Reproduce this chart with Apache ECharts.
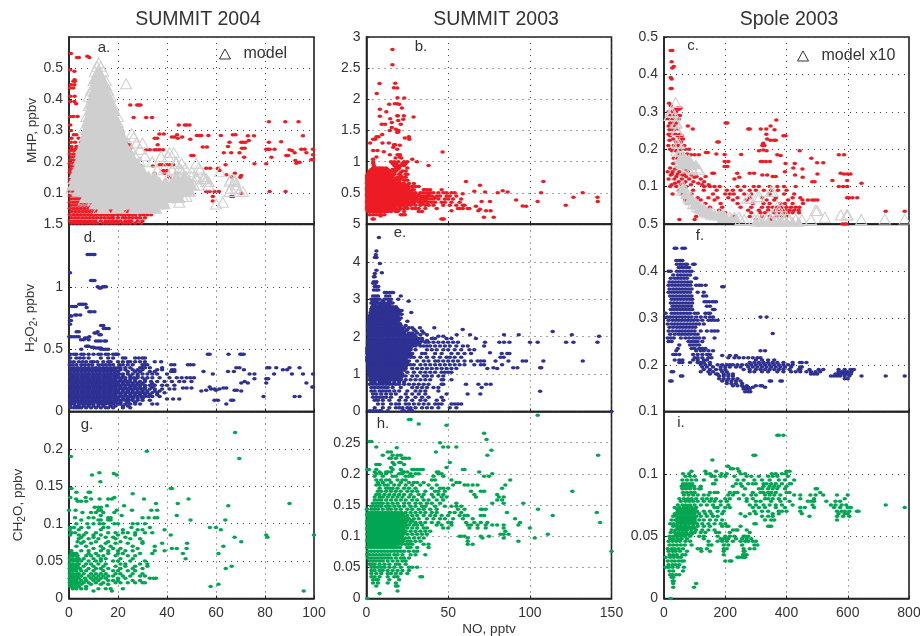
<!DOCTYPE html>
<html><head><meta charset="utf-8">
<script src="https://cdn.jsdelivr.net/npm/echarts@6/dist/echarts.min.js"></script>
<style>html,body{margin:0;padding:0;background:#fff}#c{width:920px;height:636px}</style>
</head><body><div id="c"></div>
<script>
// Every row is [y, [x, x, ...]].
const titles=['SUMMIT 2004','SUMMIT 2003','Spole 2003'];
const panelLetters=['a.','b.','c.','d.','e.','f.','g.','h.','i.'];
const xName='NO, pptv';

// ---------- a. MHP SUMMIT 2004
const aL=[.3,1.8,3.3,4.8,6.3,7.8,9.3,10.8,12.3,13.8,15.3,16.8,18.3,19.8,21.3,22.8,24.3,25.8,27.3,28.8];
const aM=[1,2.5,4,5.5,7,8.5,10,11.5,13,14.5,16,17.5,19,20.5,22,23.5,25,26.5];
const mhpSummit04=[
[.547,[.8]],[.534,[3.3,4,8.3]],[.538,[7.5]],[.495,[.4]],[.49,[2.2]],[.463,[2.3]],[.458,[1.8,2.4]],[.447,[.8,2.2]],[.436,[.4,1.8]],[.41,[.5,2.3]],[.393,[.5,2.2]],[.386,[2.9]],[.382,[25,27.8,28.5,29.2]],[.345,[.5,1.8,3.5]],[.342,[26.4,31.5,33.9]],[.328,[81.6,88.3,93.7]],[.318,[.5,44.8,47.3,48,49.2]],[.3,[.8]],[.289,[36.9,38.7]],[.286,[2,3,6,44.1,66.9,68]],[.284,[52.2,53.3,54,56.9,62]],[.283,[73,75.5,95.5]],[.279,[42,43,46.2]],[.275,[1,4,9,35,36,44.4]],[.272,[49.5]],[.268,[73.4]],[.264,[86.6]],[.262,[.8,2.5,5,23,65.5,70.3,71,72,81.6]],[.254,[36.2,24,25]],[.249,[1,3,4.5,24,64.9]],[.247,[54.6,56.3]],[.243,[70.6,71.7,25]],[.24,[1,2.5,4,80.5,81.2,81.9,83.9,94.8,96.2,99.6]],[.238,[31.5,33,34.9,35.8,37,38.4,90]],[.236,[91,.5,2,3.5,5]],[.229,[63.2,66.2,69.6,92.1,96.9,25.3]],[.222,[99.6,26]],[.22,[88.7,89.4,49.9,50.8]],[.214,[71.5,82.6]],[.206,[98.9,99.6]],[.204,[92.4]],[.198,[94.1]],[.195,[92.8]],[.193,[75.7,80.5]],[.19,[37,38,39.5,41,42.5,63.9]],[.186,[28,29.5,34.2]],[.179,[56,57.6,60.8]],[.172,[61.5,38.5,40]],[.163,[34.9,67.7,39,44]],[.158,[64.2]],[.156,[70.3]],[.15,[69.9,41]],[.152,[66.2]],[.147,[30.1,31.5]],[.104,[56,57.4,59.4,61.2,81.9,88.4]],[.099,[70.3]],[.088,[58.7,66.2,67]],[.074,[58.7]],[.072,[42.4,43]],
[.225,[.3,1.8,3.3,4.8,5.8]],[.215,[1,2.5,4,5]],[.205,[.5,2,3.5,4.8]],[.195,[.3,1.8,3.3,4.5]],[.185,[1,2.5,4]],[.175,[.5,2,3.5]],[.165,[.3,1.8,3.3]],[.155,[1,2.5]],[.145,[.5,2,3]],[.135,[.3,1.5,2.5]],[.125,[1,2]],[.115,[.3,1.5]],[.105,[.3,1.8,3.3,4.8]],
[.1,[1,2.5,4,5.5,7]],[.09,aL.slice(0,6)],[.08,aM.slice(0,7)],[.07,aL.slice(0,9)],[.06,aM.slice(0,10)],[.05,[...aL.slice(0,14),24,26,28]],
[.04,[...aM,28,30,32,33.5,35,36]],[.03,[...aL.slice(0,17),25.5,27,29,30.5,32,33.5]],[.02,[...aM.slice(0,12),18,20,22,23,24.5,26,27.5,29,31]],[.01,[...aL.slice(0,8),13,15,16.5,18,19.5,21,23,24.5,25.5,28,30]],[.003,[...aM.slice(0,7),11.5,14,15.5,17,18.5,20,22,23.5,25,27,29.5]]
];
const modelCoreSummit04=[
[.49,[12]],[.47,[11,13]],[.45,[11,13,14.5]],[.43,[10.5,12.5,14.5]],[.41,[9.8,12,14,16]],[.39,[9.3,11.5,14,16.5]],[.37,[9,11,13.5,16,18]],[.35,[8.5,11,13.5,16,18]],[.33,[8,10.5,13,15.5,18,19.5]],[.31,[7.5,10,12.5,15,17.5,20]],[.29,[7,9.5,12,14.5,17,19.5,21]],[.27,[6.5,9,11.5,14,16.5,19,21.5]],[.25,[5.5,8,10.5,13,15.5,18,20.5,23]],[.23,[5,7.5,10,12.5,15,17.5,20,22.5,24.5]],[.21,[4.5,7,9.5,12,14.5,17,19.5,22,24.5,26]],[.19,[4,6.5,9,11.5,14,16.5,19,21.5,24,26.5,28]],[.17,[3,5.5,8,10.5,13,15.5,18,20.5,23,25.5,28,30]],[.15,[2.5,5,7.5,10,12.5,15,17.5,20,22.5,25,27.5,30,32.5,35,44,47]],[.13,[2,4.5,7,9.5,12,14.5,17,19.5,22,24.5,27,29.5,32,34.5,37,39.5,42,44.5,47,49.5]],[.11,[4,6.5,9,11.5,14,16.5,19,21.5,24,26.5,29,31.5,34,36.5,39,41.5,44,46.5,49]],[.09,[7,9.5,12,14.5,17,19.5,22,24.5,27,29.5,32,34.5,37,39.5,42,44.5]],[.07,[11,13.5,16,18.5,21,23.5,26,28.5,31,33.5,36,38.5]],[.055,[14,20,27,31,35]]
];
const modelSummit04=[[.517,[12.1]],[.505,[11.5,13]],[.49,[10.5,14]],[.46,[10,15]],[.45,[23.3]],[.43,[9,16]],[.41,[8,17]],[.38,[8,18]],[.345,[7,19.9]],[.31,[6.2,20.6]],[.29,[25.6]],[.28,[22,26.5]],[.26,[30,24,27.5]],[.24,[5,25.5,29]],[.229,[42.8,41]],[.219,[31,27]],[.217,[37.6,40.5]],[.2,[29,34,43.7]],[.195,[43.7,51.9,46]],[.18,[45,47.5,39,53]],[.174,[45.8,53.5,42,36]],[.168,[61.6,50]],[.152,[47.8,55,50,52,45]],[.145,[55,56,42,52,40]],[.136,[56,57,65.5,67.6,49]],[.141,[67.6,66]],[.125,[57,51,53,68]],[.115,[1,66,68,2.5]],[.104,[69.6,65.5,71]],[.088,[46.5,48]],[.077,[38.3,10,6]],[.07,[62.8,45]],[.064,[60,37]],[.05,[12,17,25]]];

// ---------- b. MHP SUMMIT 2003
const bA=[.5,2,3.5,5,6.5,8,9.5,11,12.5,14];
const bB=[.3,1.5,3,4.5,6,7.5,9,10.5,12,13.5];
const mhpSummit03=[
[2.8,[15.9]],[2.555,[15.9]],[2.255,[8]],[2.26,[17.6]],[2.185,[16.8]],[2.18,[18.8]],[2.095,[6.3]],[2.025,[19]],[2.02,[23.1]],[1.92,[13.9,20]],[1.93,[17.4,18.8]],[1.86,[21.7]],[1.84,[8.2]],[1.8,[12.1]],[1.73,[8.2]],[1.735,[18.8,19.2,22.9]],[1.715,[28.8]],[1.69,[14.5]],[1.68,[22.5]],[1.66,[19.4]],[1.63,[15.5]],[1.6,[9.4,11.4,21]],[1.55,[15.5]],[1.5,[14.3,19.6]],[1.52,[18]],[1.47,[18.8,19.3]],[1.435,[9.6]],[1.4,[6.1,7.4,26]],[1.36,[4.1,5.3,26.2]],[1.38,[23.5]],[1.3,[2.2,9.8,13.7]],[1.27,[16.8,17.6]],[1.265,[20.4]],[1.23,[16.4]],[1.2,[18.8]],[1.18,[4.1,6.7]],[1.16,[10.6]],[1.155,[46.6]],[1.11,[14.3,19,20.5]],[1.075,[6.1,20.4]],[1.06,[17.8,21.3]],[1.04,[28,4]],[1,[4.1,30.9,15,17,19.5,23,25]],[.97,[4.1,16,18,22,24]],[.94,[38,4.5,17,19,21,23]],
[.9,[4,5.5,7,8.5,10,12,18,20,25]],[.875,[3,5,7,9,11,13,16,19]],[.85,[2,3.5,5,6.5,8,9.5,11,12.5,15,18,22,24]],[.825,[1.5,3,6,7.5,9,10.5,12,14,17,21]],[.8,[1,2.5,4,5.5,7,8.5,10,11.5,13,14.5,17,20,24,25]],[.775,[...bB,16,21]],[.75,[...bA,16,19,22,24]],[.725,[...bB,15,18,21]],[.7,[...bA,16,18,20,23,25]],[.68,[60.9,108.3]],[.675,[...bB,15,17,20]],[.65,[...bB,15.5,17,19,21,23,26,29]],[.625,[...bA,16,18,20,23,25]],[.62,[69.5]],[.6,[...bA,15.5,17,18.5,20,22,24,26,28,30,32]],[.575,[...bB,15,17,19,21,23,25]],
[.55,[...bB,15,16.5,18,19.5,21,22.5,24,26,28,29,35,36,37.5,39,46]],[.535,[83.4]],[.525,[...bA,16,18,20,22,24,27,66]],[.514,[72.6,86.4]],[.5,[...bA,15.5,17,18.5,20,21.5,23,24.5,26,28,30,33,35,37,39,41,44,47,49,52,54,80.3,106.9,132.4]],[.487,[58.9]],[.475,[...bB,15,17,19,21,23,25,27,29,32,38]],[.45,[...bB,15,16.5,18,19.5,21,22.5,24,25.5,27,29,31,33,34.5,36,38,40,43,45,49,51,55]],[.43,[126.7,141.4]],[.425,[...bA,16,18,20,22,24,26,28,30,34,37,42]],[.4,[...bA,15.5,17,18.5,20,21.5,23,24.5,26,27.5,29,31,32.5,34,35.5,37,39,41,44,48,50,53,58]],[.386,[91.6]],[.375,[...bB,15,17,19,21,23,25,28,30,33,36]],[.36,[70.5,75.6,104.8,141.6]],[.35,[...bB,15,16.5,18,19.5,21,22.5,24,25.5,27,29,32,33,35,37,38,40,42,46,48,52,57]],[.325,[...bA,16,18,20,22,24,26,29,34]],[.3,[...bA,15.5,17,18.5,20,21.5,23,25,27,30,33,36,38,41,47,51,55,59,60,122]],[.29,[95.6]],[.284,[97.7,67]],[.275,[...bB,15,17,20,24]],[.25,[...bB,15,16,18,21,23,25,28,30,32,36,43,56,57,59,62,63]],[.236,[69.5]],[.225,[.5,2,3.5,5,7,9,11,13,16,20]],[.214,[68.5,73.2,76,52]],[.2,[1,2.5,4,5.5,7,8.5,10,11.5,13,15,18,19,23,32,34]],[.15,[2,4,6,8,9,11,21,22,23.5]],[.13,[8.6]],[.11,[71.9,77.9]],[.08,[3.7,4.5,45.8,46.6,47.4]]
];

// ---------- c. MHP Spole 2003
const mhpSpole=[
[.464,[22,27]],[.434,[25]],[.421,[32]],[.417,[27]],[.392,[22]],[.388,[25]],[.362,[22,25]],[.323,[17]],[.316,[22]],[.31,[54,44]],[.307,[49,38]],[.3,[15,24,32,40]],[.29,[18,28,44,52]],[.28,[12,22,34,48]],[.278,[367]],[.27,[201,207,20,30,41]],[.262,[78,348,15,36]],[.254,[94,275,280,316,334,25,46]],[.252,[361,18,33]],[.24,[15,25,38,52,334]],[.236,[390,397,20,44,58]],[.227,[337,62,30,50]],[.224,[348,359,365,18]],[.219,[174,179,40,56]],[.216,[324]],[.21,[321,328,14,32,46,66]],[.2,[20,30,44,54,70,82]],[.196,[310,335,443,26,38]],[.198,[324]],[.191,[137,143]],[.187,[171,48,60,76]],[.186,[198,252]],[.185,[114,370,571,588,100,88]],[.183,[381]],[.176,[481,32,44,68]],[.167,[198,210,316,322,333,346]],[.164,[500,520,54,76]],[.162,[397,427,30]],[.154,[198,207]],[.15,[20,42,62,84,100,422]],[.147,[452,36,70]],[.14,[12,28,50,78,395]],[.136,[158,163,239,280,294,577]],[.134,[501,588,599,609,26,44,66]],[.131,[321,337,428,22,60,90]],[.127,[136,365,355,40,72,106]],[.125,[453,246,100]],[.12,[15,34,58,82,120,230]],[.116,[598,550]],[.113,[484,492,131,48,70,96]],[.109,[645,36,64,112]],[.105,[25,55,88,125,146]],
[.1,[131,150,165,182,240,262,293,310,345,370,392,430,571,585,598,20,40,72]],[.09,[95,130,172,205,225,250,280,300,326,350,372,400,50]],[.08,[90,160,200,215,228,262,285,345,392,425,60,28]],[.07,[75,110,145,175,210,240,280,320,365,420,445,598,604,615,631]],[.064,[70,120,165,225,270,335,360,405,452,470,484,492,501]],[.055,[75,135,185,240,290,325,345,380,395,420,454]],[.045,[100,150,190,250,285,320,340,355,370,385,400,415,430,442]],[.037,[130,180,275,310,340,365,380,395,410,425,440]],[.034,[724,786]],[.03,[140,200,285,315,330,360,375,390,405,420,441]],[.02,[105,165,230,280,320,345,365,380,400]],[.012,[50,100,180,300,350]],[0,[582,590,596]]
];
const modelCoreSpole=[[.175,[52,62,72,82]],[.16,[55,66,78,92,104]],[.095,[60]],[.08,[70]],[.065,[82,90]],[.052,[98,108]],[.042,[112,122,132]],[.033,[130,142,152]],[.025,[150,165,180,192]],[.016,[190,205,220,235]],[.006,[300,320,340,360,380,400,420,440]]];
const modelSpole=[[.325,[38]],[.3,[22,28]],[.29,[18,35]],[.27,[38,42]],[.25,[40,44]],[.215,[44,50]],[.195,[40,52]],[.18,[48,58,64]],[.165,[52,68,78]],[.15,[76,90,108]],[.145,[92,115]],[.1,[58,64]],[.09,[60,68]],[.07,[80,88]],[.069,[272,280]],[.073,[305,312]],[.087,[348,355]],[.055,[95,105]],[.046,[108,118,370,380]],[.04,[120,130]],[.03,[140,150,160]],[.024,[165,180,195,577,596,600]],[.036,[495,500]],[.018,[200,215,230,245,525]],[.012,[250,262,295,305,320,335,350,365,380,395,410,430,450,480,644]],[.013,[721,786]],[.03,[360,375]],[.02,[340,385,400]]];

// ---------- d. H2O2 SUMMIT 2004
const dA=[.5,2,3.5,5,6.5,8,9.5,11,12.5,14,15.5,17,18.5,20];
const dB=[1,2.5,4,5.5,7,8.5,10,11.5,13,14.5,16,17.5,19];
const h2o2Summit04=[
[1.26,[7.6,8.4,9.2,10,10.4]],[1.113,[.4]],[1.05,[9,9.6,10.4]],[1,[11.7,13.8,15.1,14.4]],[.99,[12.4,13]],[.86,[4.2,5,5.8,6.7]],[.843,[1.2,2.2,2.8]],[.835,[7.2]],[.8,[8.3,9,10.4]],[.775,[4.6,2.5,3.2]],[.767,[.5,1]],[.73,[.4,.8]],[.7,[.4]],[.69,[13.1,14]],[.665,[15.1,16.2,14.2]],[.64,[11.7,3.1,4]],[.63,[10.4,11]],[.615,[13,12.4]],[.6,[.1,1,2,3,4,8.3]],[.59,[7.2,6.5]],[.575,[4.9,8,6]],[.566,[11,12,13,15.1,14.5]],[.523,[7,7.6,8]],[.515,[9.3,10]],[.51,[11,12,13]],[.5,[13,14,15,16,5]],[.459,[56.7,57.4,65.1,69.9,71.3,70.5]],
[.46,[.5,2,3,5,6,8,10,12,13,15,16,19,20,19.5,18]],[.43,[.5,3,4.5,6,8,13,16,18,22,23,27,28.5,30,31]],[.4,[.5,2,4,5.5,7,9,10,11.5,14,16,17,20,22,24,25,27,29,31,35,37.6]],[.376,[.3,1.5,3,5,6.5,8,9.5,12,13.5,15,16.5,18,20.5,22,24,26,30,31,32,41.7,43,48.5,49.5,50.8]],[.35,[...dA,21,23,25,29,30,31,33,38,84.6,80.9,81.8,68.3,69.6,90,94.1]],[.335,[...dB,21,23,26,28,30,36,38,42,43,71.4,87.3,89]],[.32,[...dA,24,27,29,33,35,41.7,43,54.9,64.9,67.3]],[.3,[...dB,20.5,22,24,26,28,30,32,34,36,40,91,83.7,73.7,75.7,95.5,99.6,58.7]],[.285,[...dA,22,25,28]],[.27,[...dA,21.5,23,25,26.5,28,30,32,34,37,41,44,46,48,49.5,51]],[.263,[75.7,80.5,81.3]],[.255,[...dB,21,23,25,27,31]],[.24,[...dB,20.5,22,23.5,25,27,29,31,33.5,36,39,42,45,47,50,71.7]],[.228,[70.3,73,80.5,96.9]],[.225,[...dA,22,24,26,28,30,34]],[.21,[...dA,21.5,23,24.5,26,27.5,29,31,33,35,38,40,43]],[.196,[57.4,99.3,99.6]],[.195,[...dB,21,23,25,27,29,31,34]],[.188,[64.2,63,46.5,48,50]],[.18,[...dB,20.5,22,23.5,25,26.5,28,29.5,31,33,35,38,41,43,61.4,59.4,58]],[.17,[56,67.6,68.5,60]],[.165,[...dA,22,24,26,28,30,32,35,37]],[.164,[70.3,54]],[.15,[...dA,21.5,23,24.5,26,27.5,29,30.5,32,34,36,39]],[.135,[...dB,21,23,25,27,29,31,33,36]],[.12,[...dB,20.5,22,23.5,25,26.5,28,29.5,31,32.5,34,37,79.4,92.1,94.1]],[.105,[...dA,22,24,26,28,30]],[.1,[40,42.5,45]],[.09,[...dA,21.5,23,24.5,26,28,30,33,59.4,60.8,66.2,67]],[.075,[...dB,21,24,27]],[.06,[.5,2,4,5.5,7,8.5,10,12,13.5,15,16.5,18,20,21,23,25,27,29,34,36,64.2]],[.045,[.5,2.5,4,6,8,10,12,14,17,19,22,24]],[.03,[.5,2,3,4,5,7,9,11,13,15,16,18,22,25]]
];

// ---------- e. H2O2 SUMMIT 2003
const eA=[1,3,5,7,9,11,13,15,17,19];
const eB=[2,4,6,8,10,12,14,16,18,20];
const h2o2Summit03=[
[4.65,[7.6]],[4.29,[6.1]],[4.19,[5.7]],[4.12,[5.1,6.1]],[3.96,[8.2]],[3.78,[6.1]],[3.71,[9.4]],[3.69,[5.1]],[3.6,[4.5,5]],[3.47,[6.1,4.5]],[3.43,[4.1,5.5]],[3.34,[5,7.2,6.2]],[3.25,[4.5,6,7.2]],[3.18,[11.2,12.5,14.3,15.5,16.3]],[3.09,[4,5.5,7,12,14,21]],[3,[3,5,6.5,8,11,13,15,19.4]],[2.95,[25.8,4,6,10,14]],[2.9,[3,4.5,6,7.5,9,11,13,15,16]],[2.85,[4,5.5,8,10,12,14]],[2.8,[3.5,5,6.5,8,10,12,14,16,18]],[2.75,[3,4.5,7,9,11,13,15,17,19]],[2.7,[3,4.5,6,7.5,9,11,13,15,17,19,20.5,21.5]],[2.65,[27.4,2.5,4,6,8,10,12,14,16,18,20]],[2.6,[2.5,4,5.5,7,8.5,10,12,14,16,18,20,21.5]],[2.55,[2,3.5,5,7,9,11,13,15,17,19]],[2.5,[2,3.5,5,7,9,11,13,15,17,19,21]],[2.45,[2,4,6,8,10,12,14,16,18,20]],[2.41,[25,1.5,3,5,7,9,11,13,15,17,19]],[2.35,[20.4,2,4,6,8,10,12,14,16,18]],[2.3,[1,...eA,21,24]],[2.24,[41.5,32.7,26,28,...eA,21,23]],[2.19,[58.9,...eB,22,25,29]],[2.15,[...eB,22,24,30,34]],[2.14,[114]],[2.1,[...eA,21,23,26,28,31,35]],[2.05,[...eA,21,23,25,27,29,33,55.2,63.4,84.2,93.2,125.7,37]],[2.01,[142.4,44,47,...eB,22,24,26,28,30]],[1.95,[...eB,22,24,26,28,30,32,34,40,42,67,49,52]],[1.9,[...eA,21,23,25,27,29,31,34,37]],[1.85,[...eA,21,23,25,27,29,31,33,36,38,41,44,47,50,53,56,72.6,81.3,84.2,87.5,100.1,104.8,122.2,126.7,141.4]],[1.8,[...eB,22,24,26,28,30,32]],[1.75,[...eB,22,24,26,28,30,33,35,37,39,42,45,48,51,55,59,62,72]],[1.7,[.5,...eA,21,23,25,27]],[1.65,[.5,...eA,21,23,25,27,30,37,40,43,47,50,54,58,63,66]],[1.6,[.5,...eB,22,24,26]],[1.57,[75.6]],[1.55,[.5,...eB,22,24,26,28,34,36,42,46,52,56,60,64,82.8,86.2,87.5]],[1.5,[...eA,21,23,25,27]],[1.45,[.5,...eA,21,23,25,27,29,33,37,41,45,49,51,54,58,82,84]],[1.4,[.5,...eB,22,24]],[1.35,[.5,...eB,22,24,26,31,35,38,42,44,47,50,53,56,60,64,68,70,72,79,86.9,95.6,97.7,108.3,132.4]],[1.3,[...eA,21,23,25]],[1.25,[...eA,21,23,25,27,29,33,36,39,42,45,48,51,54,57,60,66,70,72,83]],[1.2,[2,...eB.slice(1),22,24]],[1.17,[92.4,89.8,77.7,106.3,107]],[1.15,[2,...eB.slice(1),22,24,28,31,34,37,40,43,46,49,52,55,74,80]],[1.1,[1.5,...eA.slice(1),21,23]],[1.05,[1.5,...eA.slice(1),21,25,29,33,36,39,42,46,48,50,52]],[1,[2,...eB.slice(1),22]],[.95,[2,...eB.slice(1),22,24,28,31,35,37,40,44,47]],[.9,[2.5,...eA.slice(1),21]],[.85,[2,...eA.slice(1),21,24,27,30,33,36,39,46,47,52]],[.79,[3,5,8,10,12,14,17,20,23]],[.73,[...eB,23,26,29,32,35,38,47,46,60.9,68.5,73.2,76]],[.64,[70.5,3,5,7,9,11,13,16,21,28,31,34,37,41,44]],[.54,[106.3]],[.55,[3,5,8,10,12,14,17,20,25,30,33,36,44]],[.47,[4,6,9,12,15,18,24,28,32,36,49,61.9,69.7]],[.38,[4,6,8,10,12,15,21,25,30,34,38,46]],[.3,[5,7,10,14,20,24,28,33,36,43,47]],[.2,[7,10,15,18,20,24,26,29,32,35,38,42,44,46,52,54,56,58]],[.1,[5,10,14,18,20,22,25,27,30,34,37,40,44,51,55]],[.02,[2,4,6,8,9,13,22,23,26,27,28]],[0,[150]]
];

// ---------- f. H2O2 Spole 2003
const h2o2Spole=[
[.449,[35,40,60,68]],[.423,[40,48,55,60]],[.415,[42,52,60,70,75,95,100]],[.408,[48,58,66,76,82]],[.4,[15,22,42,52,62,72,82,90]],[.392,[30,45,55,65,75,85]],[.385,[22,35,45,55,65,75,105,102]],[.377,[18,28,38,48,58,68,78,88]],[.37,[15,26,36,46,56,66,76,86,105,115,122,136]],[.367,[195,190]],[.362,[18,30,40,50,60,70,80,90]],[.355,[15,25,35,45,55,65,75,85,110,130]],[.347,[20,30,40,50,60,70,80,90,128,138]],[.34,[25,35,45,55,65,75,85,92]],[.335,[132,140,148,158,165,170]],[.332,[22,32,42,52,62,72,82,92]],[.325,[28,38,48,58,68,78,88,140,150]],[.318,[22,32,42,52,62,72,82,92,160,165]],[.31,[5,25,35,45,55,65,75,85,100,110,150,135,145]],[.302,[10,20,30,40,50,60,70,80,90,105,120,135,150,160,315,335]],[.295,[15,28,38,48,58,68,78,88,98,110,125,145,155,165,175]],[.287,[12,25,35,45,55,65,75,85,95,105,115,130]],[.28,[18,30,42,52,62,72,82,92,102]],[.272,[15,28,40,50,60,70,80,90,100,120,140,155,165,175]],[.267,[355]],[.265,[20,35,48,58,68,78,88,100,110]],[.257,[12,22,32,55,70,82,95,105,115,130,165]],[.25,[15,25,80,90,100,110,125]],[.242,[50,85,95,105,115]],[.235,[45,90,100,115,125,135]],[.23,[40,105,120,130,145,160,315,330]],[.222,[30,38,50,95,110,125,140,150]],[.22,[190,215,235]],[.215,[100,110,125,145,155,210,230,245,260,275,290,305,315]],[.21,[35,50,60,95,110,130,140,300,320,340,360]],[.205,[50,60,85,110,120,130,150,280,295,310,325,340,355,370,390,420,450,465,444]],[.2,[120,135,150,175,190,205,215,225,240,255,270,285,300,315,330,345,360,375,390,405,420]],[.195,[125,140,160,185,200,215,235,250,275,290,305,320,335,350,365,380,395,415,450,444]],[.19,[130,150,170,185,200,260,280,300,315,330,345,360,375,390,410,440,475,445,505,520,570,590,610,620]],[.185,[25,30,120,145,160,190,205,280,295,320,340,370,390,415,430,445,465,480,495,510,570,580,590,600,612]],[.18,[150,170,175,195,210,225,480,490,500,560,570,580,590,600,610]],[.176,[55,60,180,195,210,225,545,555,565,575,590,605,645,724,786]],[.17,[180,195,210,225,240,590,600]],[.165,[190,205,220,235,250,20,25,380,385,350,345]],[.16,[205,220,235,255]],[.155,[225,240,255,270,300,315,320]],[.152,[260,275,290,330]],[.148,[260,270,280]],[.142,[265,275,282]]
];

// ---------- g. CH2O SUMMIT 2004
const ch2oSummit04=[
[.222,[67.8]],[.197,[31.8]],[.19,[.8]],[.187,[69.5]],[.168,[12.4]],[.167,[18.3]],[.165,[9.4,19.5]],[.156,[12.8]],[.147,[1,41.5,42]],[.142,[3,8,8.6]],[.14,[26]],[.135,[6.8,18.5,.5]],[.133,[2.9,9,12.5,16,17.5,30.6,48.8]],[.13,[5,3.6,7]],[.127,[35.5,44.4,90]],[.124,[15.5,22.5,65]],[.122,[10.5,12,13]],[.118,[0,2.7,12,13,19.5,25.7,33.6,36]],[.115,[5.5,9,11,14,18.5]],[.111,[13,21.5,44]],[.108,[2.5,8,10,16,17,30,32.5,35,36]],[.105,[5,12,13,16,17,49.6,63.8]],[.1,[3,7.5,10,12.5,14,18.5,20,26,28,31]],[.095,[.5,2,5,8,14,16,25.5,33,57.5,60]],[.092,[.3,4,13,22,28,30,39,62]],[.088,[1,2.5,7,11,16,19,22,24,27,31,34]],[.085,[.5,4,6,10,13,20,27,41.5,80.5,100]],[.082,[5,10,15,18,23,67.6,81]],[.08,[4,8,12,19,25,29]],[.076,[3.5,6,11,16,21,30,70.3]],[.074,[5,9,15,19,24,30,38,48.2]],[.07,[3,7,13,17,26,35,63]],[.067,[10,14,18,21,28,42,44,48]],[.064,[1,5,8,13,16,20,23,26,35,39]],[.06,[1,2,3,8,11,16,20,22,29,34,46.5,61]],[.057,[.5,2,3.5,7,9,12,14,19,24,27]],[.053,[.3,1.5,3,4,6,10,13,15,21,26,47.6]],[.05,[.5,2,3.5,5,8,11,13,18,20,25,31]],[.046,[.3,1.5,3,4,7,9,12,15,21,23,29,32]],[.043,[.5,2,3.5,6,10,14,19,23,27,32,66.4]],[.04,[.3,1.5,3,4.5,8,11,13,16,21,26,30,64]],[.037,[.5,2,3,5,7,10,14,18,20,24,27]],[.033,[.3,1.5,3,4,6,9,11,13,15,19,21,26,30]],[.03,[.5,2,3.5,5,8,10,12,14,16,18,22,25,29,31]],[.027,[.3,1.5,2.5,4,6.5,9,11,13,15,20,23,33,34.5,35.5]],[.024,[.5,2,3,5,7,10,12,16,18,20,26,29]],[.021,[.3,1.5,2.5,4,6,8,11,14,19,21,24,27,30,31]],[.019,[.5,2,3,5,9,13,16,61]],[.016,[.5,1,2.5,4,7,57.8]],[.013,[1.5,3,5,7,12,15,17,22]],[.01,[10,17.5,95.8]]
];

// ---------- h. CH2O SUMMIT 2003
const hA=[.5,2.5,4.5,6.5,8.5,10.5,12.5,14.5,16.5,18.5,20.5,22.5];
const hB=[1.5,3.5,5.5,7.5,9.5,11.5,13.5,15.5,17.5,19.5,21.5];
const ch2oSummit03=[
[.294,[104.8]],[.287,[26,27]],[.28,[32]],[.278,[49]],[.265,[72]],[.255,[73.5]],[.252,[2,3]],[.25,[45]],[.243,[6,47,50,55]],[.242,[18.5]],[.238,[76.5]],[.235,[42.5,13,15]],[.23,[10,16,19,21,74,141.8]],[.225,[14,15,18,22,23,24,26]],[.218,[16,20,21,51]],[.215,[6,7,8,17,23]],[.21,[15,49]],[.207,[.5,1.5,6,16,21,28,29,31,33,34.5,60,59]],[.203,[5,8,12,13,15,22,23,25,69,44,43]],[.2,[6,9,12,20,22,27,30,32,44,46,77]],[.196,[5,10,16,18,24,26,28,41,47,72,75]],[.19,[6,9,12,14,19,22,24,40,42,52,88]],[.186,[7,10,15,21,26,29,31,35,55,57]],[.182,[6,8,11,13,17,20,24,28,33,38,43,53,60,62,65,68,85]],[.177,[8,12,14,16,19,23,26,30,40,45,47,50,83]],[.172,[7,9,12,15,18,21,25,28,31,36,42,44,48,64,70,72,126]],[.167,[6,8,11,14,17,20,23,27,32,35,40,44,47,66,80]],[.163,[5,8,10,13,16,19,22,26,29,34,41,46,49,67,81,84]],[.158,[5,7,9,12,15,18,21,24,28,31,35,38,43,47,80,83]],[.153,[4,6,8,10,13,16,19,23,26,30,33,37,40,45,55,77,84,96]],[.148,[3,5,7,9,12,14,17,20,23,27,30,34,36,42,48,52,55,58]],[.143,[.3,3,5,7,10,13,15,18,21,25,28,32,35,39,43,56,60,70,71,73,105]],[.138,[...hB,24,27,30,33,36,40,43,51,54,58,86,141]],[.1355,[...hA]],[.133,[...hA,25,28,31,35,39,42,46,50,57,60,62,70,72,114]],[.1305,[...hB,24]],[.128,[...hB,24,26,29,32,37,41,45,48,53,59,65,91]],[.125,[...hA,25,28]],[.122,[...hA,24,27,30,33,36,40,44,50,52,61,66,70,74,94,143]],[.12,[...hA]],[.118,[...hB,24,26,29,31,34,43,46,52,62,64,68,73,77,80,84,93]],[.1155,[...hB,23]],[.113,[...hA,25,28,31,35,37,47,50,63,68,73,84,100]],[.1105,[...hA]],[.108,[...hB,24,27,30,33,36,39,85]],[.1055,[...hB,23]],[.103,[...hA,25,28,31,34,37,82,84,87,111]],[.1,[57,58,60,70,75,...hB]],[.097,[...hB,24,26,29,32,35,62,71,84,103]],[.0945,[...hA]],[.092,[...hA,25,27,30,33,62,93]],[.0895,[...hB]],[.087,[...hB,24,26,28,35,38,62,65]],[.0845,[...hB.slice(0,9)]],[.082,[...hA.slice(0,11),25,27,31,38]],[.076,[1,3,5,7,9,11,13,15,17,19,21,23,26,29,31,150]],[.07,[.5,2,4,6,8,10,12,14,17,19,22,27,30,36]],[.065,[1,3,5,7,9,11,13,15,18,21,23,26]],[.06,[2,4,6,8,10,13,16,19,22,24]],[.055,[2,3.5,5,8,11,14,18,20,24]],[.05,[3,5,7,9,11,14,17,21,26,28,31]],[.045,[3,5,8,10,13,16,19,22,26]],[.04,[3,6,9,13,15,18,21,25]],[.035,[3,5,8,13,17,19,33,34]],[.03,[4,6,7,14,20]],[.025,[4,7,13,18]],[.02,[6,18,19]],[.012,[19]],[.008,[8]],[0,[.5]]
];

// ---------- i. CH2O Spole 2003
const iCore=[44,52,60,68,76,84,92,100];
const ch2oSpole=[
[.131,[370,375,390]],[.115,[292,298]],[.111,[158]],[.106,[207,210]],[.104,[225,240,218]],[.102,[90,135,170,245,400,410]],[.1,[62,82,138,150,205,188,250,265,352,365,385,398]],[.098,[70,85,100,155,165,185,200,230,270,285,310,340,355,370,405]],[.095,[60,75,90,105,130,170,240,260,295,320,345,375,395,425]],[.092,[62,72,82,92,160,165,235,250,275,290,300,325,335,350,365,385,410,415]],[.09,[58,68,78,88,98,120,225,255,325,345,360,375,400]],[.088,[60,72,85,100,115,120,265,310,320,340,355,370,395,500,495]],[.085,[62,75,88,100,150,165,175,215,230,240,290,315,325,340,350,365,410,400,510]],[.083,[65,80,95,110,130,145,210,225,260,285,300,330,345,360,380,425,445,520,478,495,565,600]],[.08,[50,65,78,90,105,125,140,155,170,200,215,245,270,290,330,340,355,375,395,445,490,590]],[.078,[55,70,82,95,110,130,150,165,185,205,270,300,315,350,380,410,470,480,490,575,530,560]],[.075,[45,60,72,85,100,120,140,160,185,210,280,300,325,345,365,385,420,485,545,560,580,595,724]],[.073,[35,50,65,78,90,105,165,175,200,215,290,310,330,365,395,445,460,490,555,575,600,610,786]],[.0715,iCore],[.07,[45,58,70,82,95,108,130,150,175,195,295,320,340,375,385,400,445,565,580,590,605,630,635]],[.0685,iCore],[.068,[35,48,60,72,85,98,115,135,155,190,250,280,300,355,375,450,590,600,570]],[.0645,iCore],[.066,[30,42,55,68,80,92,105,120,140,160,175,265,320,340,355,475,565,585,605]],[.0615,iCore],[.063,[25,38,50,62,75,88,100,115,130,150,170,190,330,350,360,565]],[.06,[20,32,45,58,70,82,95,108,125,145,165,185,200,295,300]],[.0565,iCore],[.058,[30,42,55,68,80,95,110,130,150,190,205,210,250,340,345,350]],[.055,[25,38,50,62,75,90,105,125,145,165,225,235,240,270]],[.0515,[40,48,56,64,72,80,90]],[.053,[22,35,48,60,72,88,100,120,135,170,180,215,280]],[.05,[18,30,42,55,68,85,115,130,175,200,215,230,260,265,275]],[.048,[20,32,45,58,75,130,185,195,210,235,255,270,285,205]],[.046,[15,28,40,52,70,85,145,175,190,205,225,250,265,275,290,300]],[.043,[18,30,42,55,68,90,145,155,195,210,255,295,305]],[.04,[12,25,35,48,62,110,120,140,195,205,260,280,295]],[.038,[15,28,38,52,75,122,150,195,260,263]],[.035,[18,30,42,60,70,195,258,262,270]],[.033,[5,20,32,45,55,240,245,255,262,265]],[.03,[12,25,35,48,58,65,200,215,220]],[.027,[15,28,38,50]],[.025,[5,15,28,45,65]],[.022,[18,30,62]],[.019,[20,28,40,50]],[.017,[25,30]],[.014,[28,32]],[.012,[30,105]],[.009,[30,98]],[0,[22]]
];

const colRed='#ED1C24',colBlue='#2E3192',colGreen='#00A651',colGrey='#CFCFCF';
const pts=rows=>rows.flatMap(([y,xs])=>xs.map(x=>[x,y]));

const colLeft=[69,366.5,664],rowTop=[37,224.5,411.5],pw=245,ph=187;
const xMax=[100,150,800],xInt=[20,50,200];
const yCfg=[
 {min:0,max:.6,interval:.1,showMin:false,showMax:false,name:'MHP, ppbv',gap:29},
 {min:0,max:3,interval:.5,showMin:false,showMax:true},
 {min:0,max:.5,interval:.1,showMin:false,showMax:true},
 {min:0,max:1.5,interval:.5,showMin:true,showMax:true,name:'{n|H}{s|2}{n|O}{s|2}{n|, ppbv}',gap:29},
 {min:0,max:5,interval:1,showMin:true,showMax:true},
 {min:.1,max:.5,interval:.1,showMin:true,showMax:true},
 {min:0,max:.25,interval:.05,showMin:true,showMax:false,name:'{n|CH}{s|2}{n|O, ppbv}',gap:41},
 {min:0,max:.3,interval:.05,showMin:true,showMax:false},
 {min:0,max:.15,interval:.05,showMin:true,showMax:false}
];
const textCol='#333';
const grids=[],xAxes=[],yAxes=[];
const gridLine={show:true,lineStyle:{color:'#444',width:1,type:[1,5]}};
yCfg.forEach((c,i)=>{
  const col=i%3,row=Math.floor(i/3);
  grids.push({left:colLeft[col],top:rowTop[row],width:pw,height:ph,outerBoundsMode:'none',show:true,borderColor:'#222',borderWidth:1.6,backgroundColor:'transparent'});
  xAxes.push({gridIndex:i,type:'value',min:0,max:xMax[col],interval:xInt[col],
    axisLine:{show:true,lineStyle:{color:'#222',width:1.6}},axisTick:{show:true,inside:true,length:3,lineStyle:{color:'#222'}},
    axisLabel:{show:row===2,color:textCol,fontSize:14,fontFamily:'Liberation Sans',margin:8},
    splitLine:gridLine,
    name:i===7?xName:'',nameLocation:'middle',nameGap:24,nameTextStyle:{color:textCol,fontSize:13.5,fontFamily:'Liberation Sans'}});
  yAxes.push({gridIndex:i,type:'value',min:c.min,max:c.max,interval:c.interval,
    axisLine:{show:true,lineStyle:{color:'#222',width:1.6}},axisTick:{show:true,inside:true,length:3,lineStyle:{color:'#222'}},
    axisLabel:{color:textCol,fontSize:14,fontFamily:'Liberation Sans',margin:6,showMinLabel:c.showMin,showMaxLabel:c.showMax},
    splitLine:gridLine,
    name:c.name||'',nameLocation:'middle',nameRotate:90,nameGap:c.gap||30,
    nameTextStyle:{color:textCol,fontSize:13.5,fontFamily:'Liberation Sans',
      rich:{n:{fontSize:13.5,color:textCol,fontFamily:'Liberation Sans',padding:[0,0,3,0]},s:{fontSize:10,color:textCol,fontFamily:'Liberation Sans',padding:[5,0,0,0]}}}});
});
const dots=(rows,i,color,name)=>({type:'scatter',name,xAxisIndex:i,yAxisIndex:i,data:pts(rows),symbol:'circle',symbolSize:[4.5,3.5],clip:true,silent:true,
  itemStyle:{color,opacity:1},animation:false});
const hollow=(rows,i,name)=>({type:'scatter',name,xAxisIndex:i,yAxisIndex:i,data:pts(rows),symbol:'triangle',symbolSize:[11,10],clip:true,silent:true,
  itemStyle:{color:'rgba(0,0,0,0)',borderColor:colGrey,borderWidth:1,opacity:1},animation:false});
const solid=(rows,i,name,size)=>({type:'scatter',name,xAxisIndex:i,yAxisIndex:i,data:pts(rows),symbol:'triangle',symbolSize:size,clip:true,silent:true,
  itemStyle:{color:colGrey,opacity:1},animation:false});
const series=[
 dots(mhpSummit04,0,colRed,'MHP 2004'),solid(modelCoreSummit04,0,'model core',[15,14]),hollow(modelSummit04,0,'model'),
 dots(mhpSummit03,1,colRed,'MHP 2003'),
 dots(mhpSpole,2,colRed,'MHP Spole'),solid(modelCoreSpole,2,'model x10 core',[11,10]),hollow(modelSpole,2,'model x10'),
 dots(h2o2Summit04,3,colBlue,'H2O2 2004'),dots(h2o2Summit03,4,colBlue,'H2O2 2003'),dots(h2o2Spole,5,colBlue,'H2O2 Spole'),
 dots(ch2oSummit04,6,colGreen,'CH2O 2004'),dots(ch2oSummit03,7,colGreen,'CH2O 2003'),dots(ch2oSpole,8,colGreen,'CH2O Spole')
];
const titleCx=[198,496,789];
const letterPos=[[104,48],[421,47],[693,46],[90,238],[400,233],[700,236],[87,425],[383,424],[681,423]];
const graphic=[
 ...titles.map((t,i)=>({type:'text',x:titleCx[i],y:20,silent:true,style:{text:t,fontSize:19.5,fontFamily:'Liberation Sans',fill:'#333',align:'center',verticalAlign:'middle'}})),
 ...panelLetters.map((t,i)=>({type:'text',x:letterPos[i][0],y:letterPos[i][1],silent:true,z:20,style:{text:t,fontSize:15,fontFamily:'Liberation Sans',fill:'#333',align:'center',verticalAlign:'middle'}}))
];
const lgd=(name,left,top)=>({data:[name],left,top,icon:'triangle',itemWidth:11,itemHeight:10,selectedMode:false,padding:0,
  itemStyle:{color:'rgba(0,0,0,0)',borderColor:'#333',borderWidth:1},
  textStyle:{color:textCol,fontSize:16,fontFamily:'Liberation Sans',padding:[0,0,0,8]}});
const chart=echarts.init(document.getElementById('c'),null,{renderer:'canvas'});
chart.setOption({animation:false,backgroundColor:'#fff',grid:grids,xAxis:xAxes,yAxis:yAxes,series,graphic,tooltip:{show:false},
  legend:[lgd('model',219,46),lgd('model x10',797,48)]});
</script></body></html>
